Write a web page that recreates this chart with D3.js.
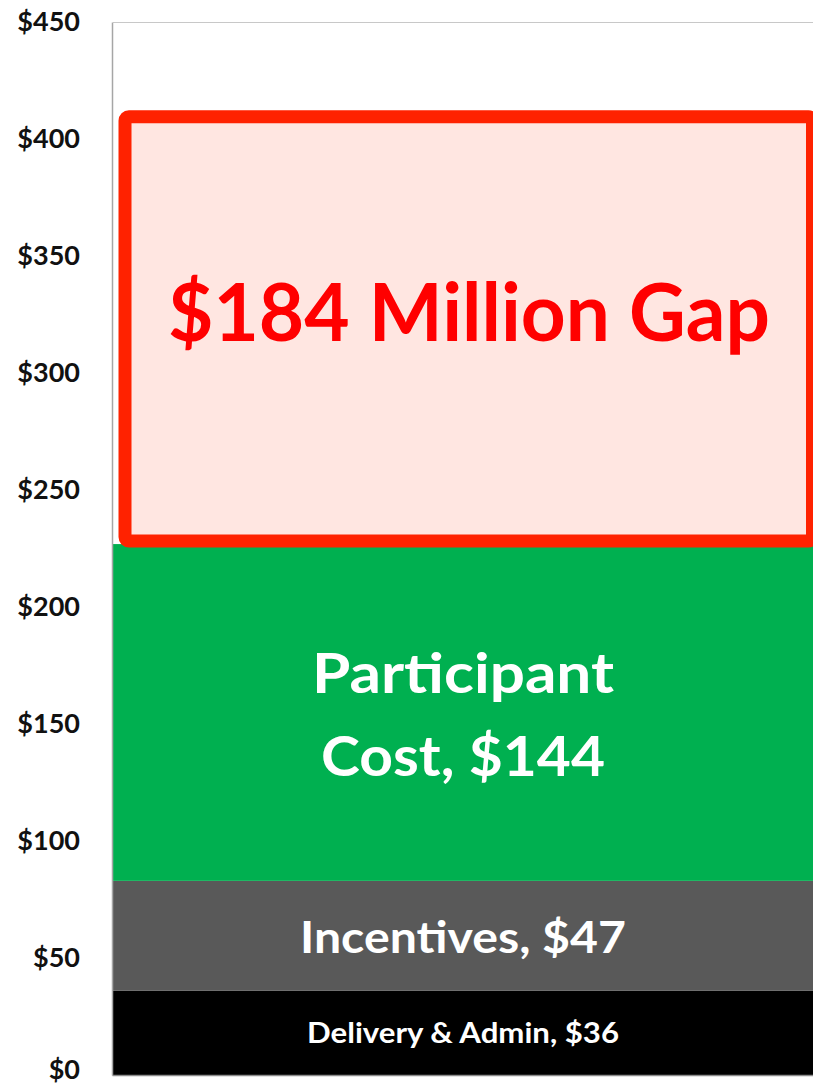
<!DOCTYPE html>
<html>
<head>
<meta charset="utf-8">
<script src="https://cdn.jsdelivr.net/npm/d3@7"></script>
<style>
  body { margin: 0; background: #fff; }
  svg { display: block; font-family: Lato, "Open Sans", sans-serif; }
</style>
</head>
<body>
<div id="graphic"></div>
<script>
// stacked bar segments, bottom to top
const segments = ["Delivery & Admin", "Incentives", "Participant Cost", "Gap"];
const values = [36, 47, 144, 184];
const labels = [["Delivery & Admin, $36"], ["Incentives, $47"], ["Participant", "Cost, $144"], ["$184 Million Gap"]];
const yTicks = [0, 50, 100, 150, 200, 250, 300, 350, 400, 450];

const width = 813, height = 1088;
const margin = {top: 22.5, left: 113, right: 0, bottom: 13};
const colours = ["#000000", "#595959", "#00b050", "#ffe6e1"];
const textColours = ["#ffffff", "#ffffff", "#ffffff", "#ff0000"];

const svg = d3.select('#graphic').append('svg')
  .attr('width', width).attr('height', height);

const y = d3.scaleLinear().domain([0, 450]).range([height - margin.bottom, margin.top]);
const x0 = margin.left, x1 = width;

// stack the data
let acc = 0;
const stacked = values.map((v, i) => {
  const d = {name: segments[i], y0: acc, y1: acc + v, lines: labels[i], i: i};
  acc += v;
  return d;
});

// top gridline
svg.append('line')
  .attr('x1', x0).attr('x2', x1)
  .attr('y1', y(450)).attr('y2', y(450))
  .attr('stroke', '#c8c8c8').attr('stroke-width', 1);

// y axis labels
const yAxis = svg.append('g')
  .attr('transform', 'translate(' + (x0 - 33) + ',0)')
  .call(d3.axisLeft(y).tickValues(yTicks).tickSize(0).tickFormat(d => '$' + d));
yAxis.select('.domain').remove();
yAxis.selectAll('text')
  .attr('x', 0)
  .attr('dy', d => d === 0 ? '0.12em' : '0.3em')  // keep $0 inside the frame
  .attr('font-family', 'Lato, sans-serif')
  .attr('font-weight', 'bold')
  .attr('font-size', 27)
  .attr('fill', '#111');

// bars (all but the gap)
svg.append('g').selectAll('rect')
  .data(stacked.filter(d => d.name !== "Gap"))
  .join('rect')
  .attr('x', x0)
  .attr('width', x1 - x0)
  .attr('y', d => y(d.y1))
  .attr('height', d => y(d.y0) - y(d.y1))
  .attr('fill', d => colours[d.i]);

// gap box with red outline
const gap = stacked.find(d => d.name === "Gap");
svg.append('rect')
  .attr('x', x0 + 12)
  .attr('width', x1 - x0 - 12.5)
  .attr('y', y(gap.y1) + 3)
  .attr('height', y(gap.y0) - y(gap.y1) - 6)
  .attr('rx', 4)
  .attr('fill', colours[3])
  .attr('stroke', '#ff2200')
  .attr('stroke-width', 13);

// axis lines
svg.append('line')
  .attr('x1', x0 - 0.5).attr('x2', x0 - 0.5)
  .attr('y1', y(450)).attr('y2', y(0) + 0.5)
  .attr('stroke', '#a6a6a6').attr('stroke-width', 1.5);
svg.append('line')
  .attr('x1', x0 - 0.5).attr('x2', x1)
  .attr('y1', y(0) + 0.5).attr('y2', y(0) + 0.5)
  .attr('stroke', '#8c8c8c').attr('stroke-width', 1.5);

// segment labels: baseline, size, width of each line
const labelStyle = [
  {base: [1043], size: 28, len: [312]},
  {base: [953], size: 44, len: [326]},
  {base: [693, 776], size: 56, len: [302, 284]},
  {base: [341], size: 80, len: [602]}
];
const cx = (x0 + x1) / 2;
stacked.forEach(d => {
  const s = labelStyle[d.i];
  d.lines.forEach((line, j) => {
    svg.append('text')
      .attr('x', cx + (d.name === "Gap" ? 6 : 0))
      .attr('y', s.base[j])
      .attr('text-anchor', 'middle')
      .attr('font-weight', 'bold')
      .attr('font-size', s.size)
      .attr('fill', textColours[d.i])
      .attr('textLength', s.len[j])
      .attr('lengthAdjust', 'spacingAndGlyphs')
      .text(line);
  });
});
</script>
</body>
</html>
